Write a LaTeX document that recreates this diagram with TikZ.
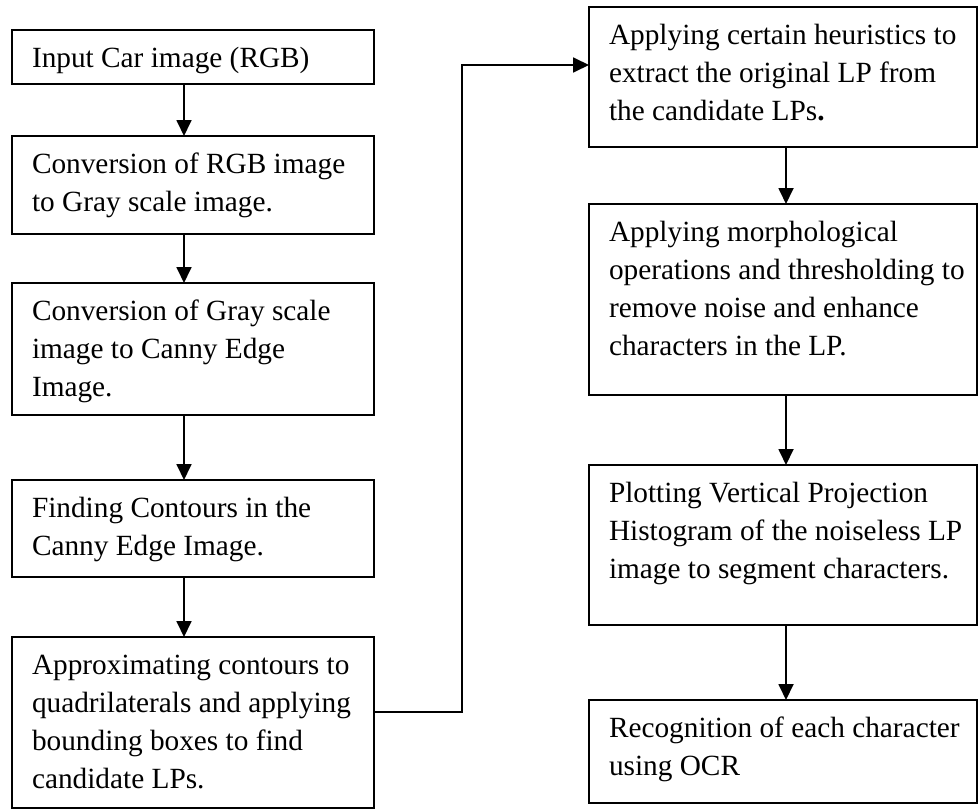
\documentclass[tikz,border=0pt]{standalone}
\usepackage{fontspec}
\setmainfont{Liberation Serif}
\usetikzlibrary{arrows.meta}
\newcommand\boxtext[3]{\parbox[t][#2pt][t]{#1pt}{\raggedright\rule{0pt}{37pt}#3}}
\begin{document}
\begin{tikzpicture}[x=1pt,y=-1pt,
  font=\fontsize{29.3}{38.3}\selectfont,
  stepbox/.style={draw=black,line width=1.8pt,rectangle,anchor=north west,inner xsep=20pt,inner ysep=0pt,outer sep=0pt},
  arr/.style={draw=black,line width=1.8pt,-{Triangle[length=16pt,width=15pt]}},
  ln/.style={draw=black,line width=1.8pt}]
\useasboundingbox (0,0) rectangle (979,809);
% left column
\node[stepbox] (b1) at (12,30) {\boxtext{322}{54}{\mbox{Input Car image (RGB)}}};
\node[stepbox] (b2) at (12,136) {\boxtext{322}{98}{\mbox{Conversion of RGB image}\\\mbox{to Gray scale image.}}};
\node[stepbox] (b3) at (12,283) {\boxtext{322}{132}{\mbox{Conversion of Gray scale}\\\mbox{image to Canny Edge}\\\mbox{Image.}}};
\node[stepbox] (b4) at (12,480) {\boxtext{322}{97}{\mbox{Finding Contours in the}\\\mbox{Canny Edge Image.}}};
\node[stepbox] (b5) at (12,637) {\boxtext{322}{171}{\mbox{Approximating contours to}\\\mbox{quadrilaterals and applying}\\\mbox{bounding boxes to find}\\\mbox{candidate LPs.}}};
% right column
\node[stepbox] (r1) at (589,7) {\boxtext{348}{140}{\mbox{Applying certain heuristics to}\\\mbox{extract the original LP from}\\\mbox{the candidate LPs\textbf{.}}}};
\node[stepbox] (r2) at (589,204) {\boxtext{348}{191}{\mbox{Applying morphological}\\\mbox{operations and thresholding to}\\\mbox{remove noise and enhance}\\\mbox{characters in the LP.}}};
\node[stepbox] (r3) at (589,465) {\boxtext{348}{160}{\mbox{Plotting Vertical Projection}\\\mbox{Histogram of the noiseless LP}\\\mbox{image to segment characters.}}};
\node[stepbox] (r4) at (589,700) {\boxtext{348}{103}{\mbox{Recognition of each character}\\\mbox{using OCR}}};
% arrow columns
\coordinate (lx) at (184,0);
\coordinate (rx) at (786,0);
\draw[arr] (b1.south -| lx) -- (b2.north -| lx);
\draw[arr] (b2.south -| lx) -- (b3.north -| lx);
\draw[arr] (b3.south -| lx) -- (b4.north -| lx);
\draw[arr] (b4.south -| lx) -- (b5.north -| lx);
\draw[arr] (r1.south -| rx) -- (r2.north -| rx);
\draw[arr] (r2.south -| rx) -- (r3.north -| rx);
\draw[arr] (r3.south -| rx) -- (r4.north -| rx);
% connector
\coordinate (j1) at (462,712);
\coordinate (j2) at (462,65);
\draw[arr] (b5.east |- j1) -- (j1) -- (j2) -- (r1.west |- j2);
\end{tikzpicture}
\end{document}
